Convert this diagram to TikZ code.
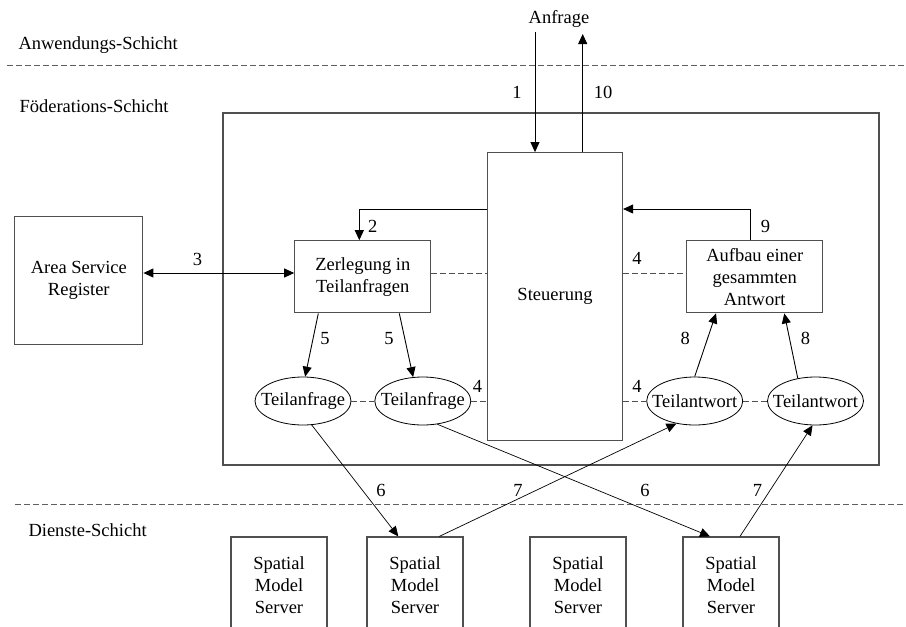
\documentclass[tikz,border=0pt]{standalone}
\usepackage{fontspec}
\setmainfont{Liberation Serif}
\usetikzlibrary{arrows.meta,shapes.geometric}
\definecolor{cFrame}{RGB}{80,80,80}
\definecolor{cSep}{RGB}{95,95,95}
\definecolor{cInk}{RGB}{0,0,0}

\begin{document}
\begin{tikzpicture}[
  x=1pt, y=-1pt, font=\fontsize{18.5}{21.8}\selectfont, color=cInk,
  box/.style   ={draw=cFrame, line width=1.2pt, align=center, inner sep=0pt},
  oval/.style  ={ellipse, draw=cInk, line width=0.8pt, inner xsep=-9pt,
                 inner ysep=0pt, minimum width=96pt, minimum height=48pt},
  flow/.style  ={-{Triangle[length=10pt,width=9pt]}, line width=0.9pt, draw=cInk},
  both/.style  ={flow, {Triangle[length=10pt,width=9pt]}-{Triangle[length=10pt,width=9pt]}},
  cross/.style ={flow, line width=0.7pt},
  link/.style  ={draw=cFrame, line width=0.9pt, dash pattern=on 6pt off 3pt},
  layer/.style ={draw=cSep, line width=1pt, dash pattern=on 6pt off 3pt},
  num/.style   ={inner sep=0pt},
]

\clip (0,0) rectangle (906,627);

% ----- the three layers ---------------------------------------------------
\draw[layer] (7,65)   -- (906,65);
\draw[layer] (15,504) -- (906,504);
\node[anchor=base west] (appl) at (15,49)  {Anwendungs-Schicht};
\node[anchor=base west] (fedl) at (16,112) {Föderations-Schicht};
\node[anchor=base west] (srvl) at (25,536) {Dienste-Schicht};
\node[anchor=base]      (req)  at (559,23) {Anfrage};

% ----- federation block -------------------------------------------------
\node[box, minimum width=656pt, minimum height=352pt] (fed)  at (551,289)    {};
\node[box, minimum width=135pt, minimum height=288pt] (steu) at (555,296.7)  {Steuerung};
\node[box, minimum width=128pt, minimum height=128pt] (asr)  at (78.8,280.5) {Area Service\\Register};
\node[box, minimum width=136pt, minimum height=72pt]  (zer)  at (362.8,276.8) {Zerlegung in\\Teilanfragen};
\node[box, minimum width=136pt, minimum height=72pt]  (auf)  at (754.8,276.8) {Aufbau einer\\gesammten\\Antwort};

\node[oval] (ta1) at (303,401)   {Teilanfrage};
\node[oval] (ta2) at (422.8,401) {Teilanfrage};
\node[oval] (tw1) at (694.7,401) {Teilantwort};
\node[oval] (tw2) at (815.5,401) {Teilantwort};

% ----- services (cut off by the page) -----------------------------------
\foreach \i/\xx in {1/279,2/415,3/578,4/731}
  \node[box, minimum width=96pt, minimum height=96pt] (srv\i) at (\xx,585)
       {Spatial\\Model\\Server};

% ----- request in, answer out -------------------------------------------
\coordinate (q1)  at (535,32);
\coordinate (q10) at (582.7,34);
\draw[flow] (q1) -- (q1 |- steu.north);
\draw[flow] (q10 |- steu.north) -- (q10);

\draw[flow] ([yshift=87.7pt]steu.west) -| ([xshift=-3.5pt]zer.north);
\draw[flow] ([xshift=-4pt]auf.north) |- ([yshift=87.7pt]steu.east);
\draw[both] ([yshift=7.5pt]asr.east) -- ([yshift=7.5pt]asr.east -| zer.west);

% ----- dashed coupling to the control -----------------------------------
\draw[link] ([yshift=3.5pt]zer.east) -- ([yshift=3.5pt]zer.east -| steu.west);
\draw[link] ([yshift=3.5pt]auf.west -| steu.east) -- ([yshift=3.5pt]auf.west);
\draw[link] (ta1) -- (ta2);
\draw[link] (ta2.east) -- (ta2.east -| steu.west);
\draw[link] (tw1.west -| steu.east) -- (tw1.west);
\draw[link] (tw1) -- (tw2);

% ----- split and merge --------------------------------------------------
\draw[flow] ([xshift=-44.5pt]zer.south) -- (ta1.85);
\draw[flow] ([xshift=36.5pt]zer.south)  -- (ta2.112);
\draw[flow] (tw1.north) -- ([xshift=-38.8pt]auf.south);
\draw[flow] (tw2.128)   -- ([xshift=29.5pt]auf.south);

% ----- sub-requests to the servers and back -----------------------------
\draw[cross] (ta1.290) -- ([xshift=-16.7pt]srv2.north);
\draw[cross] (ta2.302) -- ([xshift=-21pt]srv4.north);
\draw[cross] ([xshift=24.3pt]srv2.north) -- (tw1.231);
\draw[cross] ([xshift=9pt]srv4.north)    -- (tw2.263);

% ----- step numbers -----------------------------------------------------
\node[num] (n1)  at (517,92)    {1};
\node[num] (n10) at (603,92)    {10};
\node[num] (n2)  at (372.7,226) {2};
\node[num] (n3)  at (197.5,259) {3};
\node[num] (n4a) at (637,258.3) {4};
\node[num] (n9)  at (765.5,226) {9};
\node[num] (n5a) at (325,338.3) {5};
\node[num] (n5b) at (389,338.3) {5};
\node[num] (n8a) at (685.3,338) {8};
\node[num] (n8b) at (805.5,338) {8};
\node[num] (n4b) at (477.5,386.5) {4};
\node[num] (n4c) at (637,386.5) {4};
\node[num] (n6a) at (381,490.5) {6};
\node[num] (n7a) at (518,490)   {7};
\node[num] (n6b) at (645,490.5) {6};
\node[num] (n7b) at (757.5,490) {7};

\end{tikzpicture}
\end{document}
